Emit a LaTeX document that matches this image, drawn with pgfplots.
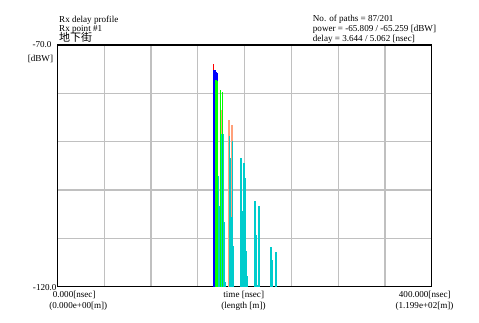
\documentclass[border=0pt]{standalone}
\usepackage{pgfplots}
\pgfplotsset{compat=1.18}
\usepackage{pgfplotstable}
\usepackage{fontspec}
\setmainfont{Liberation Serif}
\newfontfamily\cjk{Noto Sans CJK SC}
\definecolor{cyanbar}{HTML}{00CCCC}
\definecolor{salmonbar}{HTML}{FFA07A}
\definecolor{gridgray}{HTML}{C0C0C0}

% time [ns], power [dBW]
\pgfplotstableread{
t p
166.8 -73.93
}\redpaths
\pgfplotstableread{
t p
167.2 -75.17
168.5 -75.17
169.6 -75.59
170.6 -75.73
}\bluepaths
\pgfplotstableread{
t p
168.7 -82.76
169.4 -77.24
170.3 -77.24
171.4 -77.50
174.1 -79.31
176.0 -79.78
}\greenpaths
\pgfplotstableread{
t p
169.9 -88.0
}\yellowpaths
\pgfplotstableread{
t p
170.9 -84.07
175.2 -83.45
183.4 -85.50
186.6 -86.55
}\salmonpaths
\pgfplotstableread{
t p
172.4 -97.10
173.8 -103.30
175.6 -88.41
177.0 -88.41
177.8 -100.62
178.8 -106.62
179.9 -119.03
183.8 -88.83
184.8 -93.38
185.9 -105.58
187.0 -89.86
188.2 -111.58
196.3 -93.38
197.3 -104.34
199.5 -94.41
200.5 -97.51
201.6 -112.61
202.7 -117.79
211.2 -102.27
212.3 -109.30
213.4 -119.65
215.5 -103.31
216.2 -109.92
228.3 -111.79
229.4 -114.48
233.7 -112.82
}\cyanpaths

\begin{document}
\begin{tikzpicture}[font=\fontsize{9.1}{10}\selectfont]
\path[use as bounding box] (-57.3pt,-35.3pt) rectangle (421.7pt,286.7pt);
\begin{axis}[
  at={(0pt,0pt)}, anchor=south west,
  scale only axis, width=374.4pt, height=241.7pt,
  xmin=0, xmax=400, ymin=0, ymax=50,
  xtick={0,50,...,400}, ytick={0,10,...,50},
  xticklabels={}, yticklabels={},
  major tick length=0pt,
  grid=major,
  major grid style={gridgray, line width=1.2pt},
  axis line style={black, line width=1.2pt},
  clip=true,
]
\addplot[ycomb, red, line width=1.3pt, mark=none] table[x=t, y expr=\thisrow{p}+120] {\redpaths};
\addplot[ycomb, blue, line width=1.3pt, mark=none] table[x=t, y expr=\thisrow{p}+120] {\bluepaths};
\addplot[ycomb, salmonbar, line width=1.1pt, mark=none] table[x=t, y expr=\thisrow{p}+120] {\salmonpaths};
\addplot[ycomb, cyanbar, line width=1.1pt, mark=none] table[x=t, y expr=\thisrow{p}+120] {\cyanpaths};
\addplot[ycomb, yellow, line width=1.0pt, mark=none] table[x=t, y expr=\thisrow{p}+120] {\yellowpaths};
\addplot[ycomb, green, line width=1.0pt, mark=none] table[x=t, y expr=\thisrow{p}+120] {\greenpaths};
\end{axis}
% titles
\node[anchor=west, inner sep=0pt] at (1.7pt,266.7pt) {Rx delay profile};
\node[anchor=west, inner sep=0pt] at (1.7pt,257.4pt) {Rx point \#1};
\node[anchor=west, inner sep=0pt] at (1.7pt,249.3pt) {\cjk\fontsize{11}{11}\selectfont 地下街};
\node[anchor=west, inner sep=0pt] at (255.4pt,267.7pt) {No. of paths = 87/201};
\node[anchor=west, inner sep=0pt] at (255.4pt,257.4pt) {power = -65.809 / -65.259 [dBW]};
\node[anchor=west, inner sep=0pt] at (255.4pt,247.4pt) {delay = 3.644 / 5.062 [nsec]};
% y labels
\node[anchor=east, inner sep=0pt] at (-5.6pt,242.4pt) {-70.0};
\node[anchor=east, inner sep=0pt] at (-4pt,227.4pt) {[dBW]};
\node[anchor=east, inner sep=0pt] at (-0.6pt,-0.6pt) {-120.0};
% x labels
\node[inner sep=0pt] at (16.9pt,-8.3pt) {0.000[nsec]};
\node[inner sep=0pt] at (21pt,-19.3pt) {(0.000e+00[m])};
\node[inner sep=0pt] at (186.4pt,-8.3pt) {time [nsec]};
\node[inner sep=0pt] at (186.2pt,-19.3pt) {(length [m])};
\node[inner sep=0pt] at (367.5pt,-8.3pt) {400.000[nsec]};
\node[inner sep=0pt] at (367.2pt,-19.3pt) {(1.199e+02[m])};
\end{tikzpicture}
\end{document}
